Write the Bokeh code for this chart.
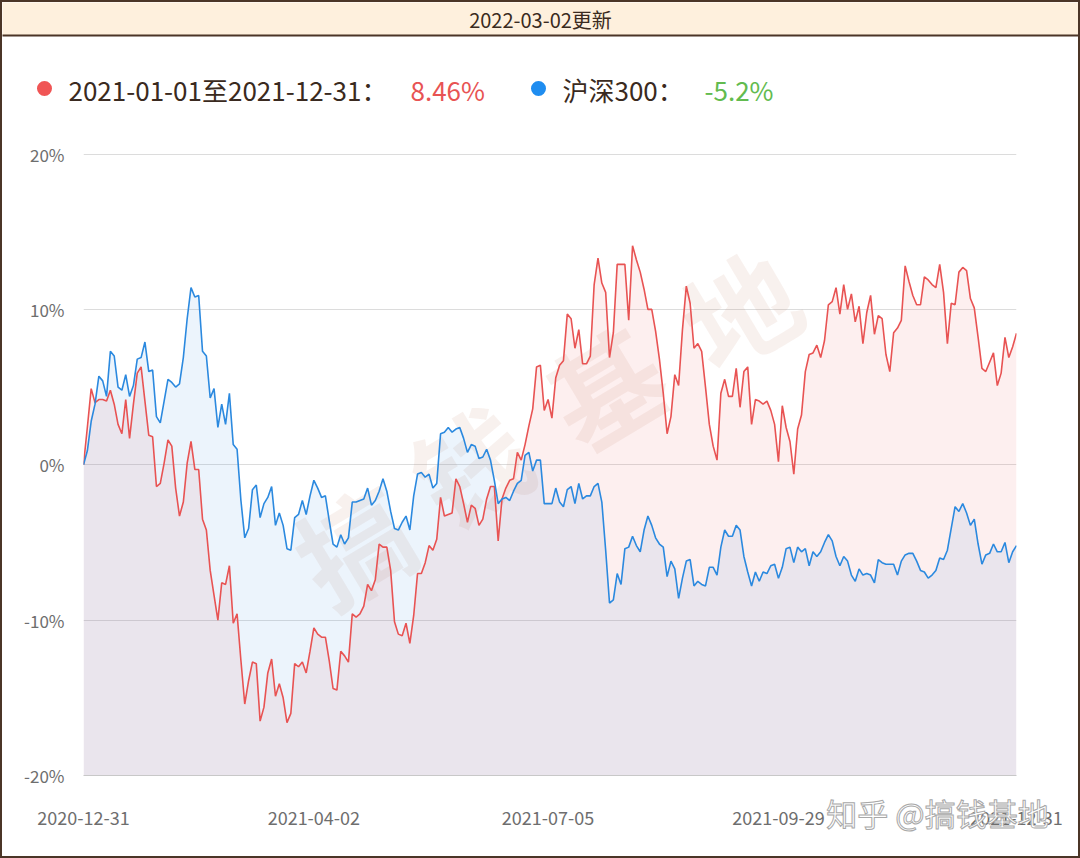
from bokeh.plotting import figure
from bokeh.layouts import column
from bokeh.models import Range1d, FixedTicker, Label
from bokeh.embed import file_html
from bokeh.resources import INLINE

# ---------------- data ----------------
fund = [0, 2.4, 4.9, 4.0, 4.2, 4.2, 4.1, 4.8, 3.9, 2.6,
        2.0, 4.2, 1.7, 3.9, 5.9, 6.3, 4.1, 1.9, 1.8, -1.4,
        -1.2, 0.1, 1.6, 1.2, -1.5, -3.3, -2.4, 0.1, 1.5, -0.3,
        -0.3, -3.5, -4.2, -6.8, -8.4, -10.0, -7.6, -7.7, -6.5, -10.2,
        -9.6, -12.6, -15.4, -13.9, -12.7, -12.8, -16.5, -15.6, -13.4, -12.5,
        -14.9, -14.1, -15.0, -16.6, -16.0, -12.8, -13.0, -12.7, -13.4, -12.0,
        -10.5, -10.9, -11.1, -11.1, -12.6, -14.4, -14.5, -12.0, -12.3, -12.7,
        -9.6, -9.8, -9.6, -9.1, -7.7, -8.1, -7.4, -5.1, -5.3, -5.3,
        -6.8, -10.1, -10.9, -11.0, -10.2, -11.5, -9.7, -7.0, -7.0, -6.3,
        -5.2, -5.5, -4.8, -2.1, -3.3, -3.2, -3.1, -0.9, -1.4, -2.5,
        -3.7, -2.6, -2.8, -3.9, -3.5, -2.2, -1.4, -1.4, -4.9, -2.2,
        -1.5, -1.0, -0.9, 0.8, 0.3, 1.3, 2.5, 3.6, 6.3, 6.4,
        3.5, 4.2, 3.0, 5.6, 6.4, 6.7, 9.7, 9.4, 7.5, 8.7,
        6.5, 6.5, 7.0, 11.6, 13.3, 11.7, 11.1, 6.9, 8.5, 12.9,
        12.9, 12.9, 9.3, 14.1, 13.2, 12.4, 11.3, 10.0, 10.0, 8.6,
        6.8, 4.6, 2.0, 3.1, 5.8, 5.1, 8.7, 11.5, 10.4, 7.5,
        7.8, 7.3, 5.0, 2.6, 1.2, 0.3, 4.6, 5.5, 4.4, 4.4,
        6.2, 3.7, 6.0, 6.3, 2.6, 4.2, 4.1, 3.9, 4.1, 3.5,
        2.6, 0.2, 3.8, 2.4, 1.5, -0.6, 2.3, 3.2, 6.0, 7.1,
        7.2, 7.7, 6.9, 8.0, 10.3, 10.5, 11.4, 9.7, 11.6, 10.0,
        11.0, 9.2, 10.2, 7.8, 9.8, 10.9, 8.4, 9.6, 9.4, 7.1,
        6.0, 8.5, 8.8, 9.3, 12.8, 11.8, 10.9, 10.3, 10.3, 12.1,
        11.9, 11.6, 11.4, 12.9, 11.1, 7.8, 10.4, 10.3, 12.4, 12.7,
        12.5, 10.7, 10.1, 8.2, 6.2, 6.0, 6.6, 7.2, 5.1, 5.9,
        8.2, 6.9, 7.6, 8.46]

hs300 = [0, 0.9, 2.8, 3.9, 5.7, 5.4, 4.4, 7.3, 7.0, 5.0,
         4.8, 5.8, 4.4, 5.1, 6.8, 6.9, 7.9, 6.0, 6.1, 3.1,
         2.7, 4.1, 5.5, 5.3, 5.0, 5.2, 6.9, 9.4, 11.4, 10.8,
         10.9, 7.3, 7.0, 4.3, 4.9, 2.4, 3.9, 2.6, 4.6, 1.3,
         1.0, -2.3, -4.7, -4.1, -1.6, -1.3, -3.4, -2.5, -2.1, -1.4,
         -3.9, -3.1, -3.9, -5.4, -5.5, -3.4, -3.2, -2.3, -3.2, -2.0,
         -1.0, -1.5, -2.1, -2.0, -3.6, -5.1, -5.3, -4.5, -5.1, -4.7,
         -2.4, -2.4, -2.3, -2.2, -1.5, -2.6, -2.3, -1.7, -0.9, -1.7,
         -3.0, -4.1, -4.2, -3.7, -3.3, -4.2, -2.0, -0.6, -0.5, -0.8,
         -0.6, -1.5, -1.2, 2.0, 2.1, 2.4, 2.1, 2.3, 2.4, 1.7,
         0.8, 1.3, 1.2, 0.4, 0.5, 1.0, 0.3, -1.0, -2.5, -2.2,
         -2.1, -2.3, -1.7, -1.2, -1.0, 0.6, 0.8, -0.4, 0.3, 0.3,
         -2.5, -2.5, -2.5, -1.5, -2.4, -2.7, -1.6, -1.4, -2.5, -1.2,
         -2.2, -2.0, -2.0, -1.4, -1.2, -2.4, -5.5, -8.9, -8.7, -7.0,
         -7.7, -5.4, -5.3, -4.6, -5.2, -5.6, -4.2, -3.3, -3.9, -4.7,
         -5.1, -5.3, -7.2, -6.2, -6.7, -8.6, -7.3, -6.2, -6.1, -7.8,
         -7.5, -7.7, -7.8, -6.6, -6.6, -7.1, -5.3, -4.2, -4.6, -4.6,
         -3.9, -4.2, -5.9, -6.9, -7.8, -6.9, -7.5, -6.9, -7.0, -6.5,
         -6.4, -7.3, -6.6, -5.4, -5.3, -6.3, -5.3, -5.6, -5.4, -6.5,
         -5.6, -5.9, -5.6, -5.0, -4.5, -4.9, -5.9, -6.5, -5.9, -6.2,
         -7.1, -7.5, -6.7, -7.1, -7.0, -7.1, -7.6, -6.1, -6.3, -6.4,
         -6.4, -6.4, -7.1, -6.2, -5.8, -5.7, -5.7, -6.2, -6.8, -6.9,
         -7.3, -7.1, -6.8, -6.0, -6.1, -5.5, -4.1, -2.7, -3.0, -2.5,
         -3.1, -3.9, -3.5, -5.1, -6.4, -5.8, -5.7, -5.1, -5.6, -5.6,
         -5.0, -6.3, -5.6, -5.2]

tick_idx = [0, 60, 121, 181, 243]
tick_labels = ["2020-12-31", "2021-04-02", "2021-07-05", "2021-09-29", "2021-12-31"]
y_ticks = [-20, -10, 0, 10, 20]

update_text = "2022-03-02更新"
legend_texts = ["2021-01-01至2021-12-31：", "8.46%", "沪深300：", "-5.2%"]
watermark_chars = ["搞", "钱", "基", "地"]
corner_mark = "知乎 @搞钱基地"

# ---------------- style ----------------
RED = "#e85353"
BLUE = "#2b89df"
GREEN = "#62bb4f"
DARK = "#3a2a20"
BROWN = "#4b3527"
GREY = "#6e6e6e"
FONT = "Noto Sans CJK SC"

HEAD_BOTTOM = 107   # page y where the header figure ends

# ---------------- header (title bar + legend) ----------------
h = figure(width=1076, height=HEAD_BOTTOM - 2, output_backend="svg",
           toolbar_location=None,
           x_range=Range1d(2, 1078), y_range=Range1d(HEAD_BOTTOM, 2),
           x_axis_type=None, y_axis_type=None, min_border=0)
h.frame_align = False
h.outline_line_color = None
h.grid.visible = False
h.background_fill_color = "white"
h.border_fill_color = "white"

h.quad(left=[0], right=[1080], top=[0], bottom=[35],
       fill_color="#fef0dd", line_color=BROWN, line_width=2)
h.text(x=[540], y=[19], text=[update_text], text_align="center",
       text_baseline="middle", text_font={"value": FONT},
       text_font_size="20px", text_color=DARK)
h.scatter(x=[44, 538], y=[88, 88], size=15, marker="circle",
          fill_color=["#f05555", "#1f8df0"], line_color=None)
h.text(x=[68, 410, 562, 704], y=[89, 89, 89, 89], text=legend_texts,
       text_align="left", text_baseline="middle", text_font={"value": FONT},
       text_font_size="26px", text_color=[DARK, RED, DARK, GREEN])

# ---------------- main chart ----------------
x = list(range(len(fund)))

p = figure(width=1076, height=856 - HEAD_BOTTOM, output_backend="svg",
           toolbar_location=None,
           x_range=Range1d(0, len(fund) - 1), y_range=Range1d(-20, 20.1),
           min_border_left=81, min_border_right=62,
           min_border_top=152 - HEAD_BOTTOM, min_border_bottom=81)
p.frame_align = False
p.outline_line_color = None
p.background_fill_color = "white"
p.border_fill_color = "white"

p.varea(x=x, y1=-20, y2=fund, fill_color=RED, fill_alpha=0.09)
p.varea(x=x, y1=-20, y2=hs300, fill_color=BLUE, fill_alpha=0.09)
p.line(x, fund, line_color=RED, line_width=1.6)
p.line(x, hs300, line_color=BLUE, line_width=1.6)

p.yaxis.ticker = FixedTicker(ticks=y_ticks)
p.yaxis.major_label_overrides = {t: f"{t}%" for t in y_ticks}
p.yaxis.axis_line_color = None
p.yaxis.major_tick_line_color = None
p.yaxis.minor_tick_line_color = None
p.yaxis.major_label_standoff = 13
p.yaxis.major_label_text_font = FONT
p.yaxis.major_label_text_font_size = "17px"
p.yaxis.major_label_text_color = GREY

p.xaxis.ticker = FixedTicker(ticks=tick_idx)
p.xaxis.major_label_overrides = dict(zip(tick_idx, tick_labels))
p.xaxis.axis_line_color = "#c8c8c8"
p.xaxis.major_tick_line_color = None
p.xaxis.minor_tick_line_color = None
p.xaxis.major_label_standoff = 29
p.xaxis.major_label_text_font = FONT
p.xaxis.major_label_text_font_size = "18px"
p.xaxis.major_label_text_color = GREY

p.xgrid.grid_line_color = None
p.ygrid.ticker = FixedTicker(ticks=y_ticks)
p.ygrid.grid_line_color = "#dcdcdc"

# watermark behind the data (canvas units of this figure)
wm_pos = [(350, 542 - HEAD_BOTTOM), (466, 462 - HEAD_BOTTOM),
          (602, 384 - HEAD_BOTTOM), (736, 306 - HEAD_BOTTOM)]
for ch, (wx, wy) in zip(watermark_chars, wm_pos):
    p.add_layout(Label(x=wx, y=wy, x_units="canvas", y_units="canvas", text=ch,
                       angle=0.54, text_align="center", text_baseline="middle",
                       text_font=FONT, text_font_size="112px", text_font_style="bold",
                       text_color="#c98b73", text_alpha=0.12, level="underlay"))

# corner mark: held in the top side panel (so it is not clipped), drawn at the bottom right
p.add_layout(Label(x=935, y=812 - HEAD_BOTTOM, x_units="canvas", y_units="canvas",
                   text=corner_mark, text_align="center", text_baseline="middle",
                   text_font=FONT, text_font_size="31px", text_color="white",
                   text_outline_color="#a8a8a8"), "above")

layout = column(h, p, spacing=0,
                styles={"border": f"2px solid {BROWN}", "background-color": "white"})

open("out.html", "w").write(file_html(layout, INLINE))
